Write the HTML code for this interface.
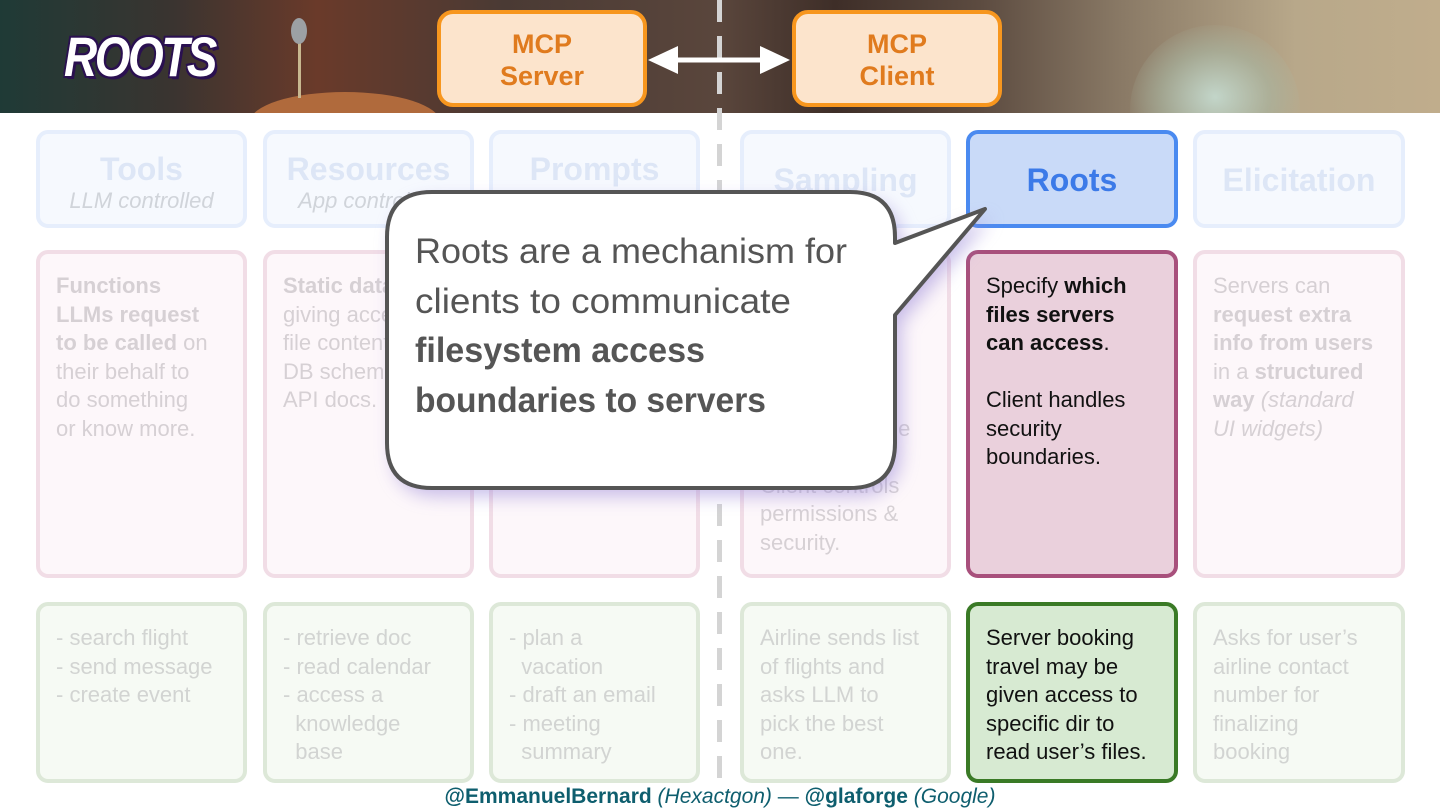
<!DOCTYPE html>
<html><head><meta charset="utf-8"><style>
*{margin:0;padding:0;box-sizing:border-box}
body{width:1440px;height:810px;position:relative;overflow:hidden;background:#fff;font-family:"Liberation Sans","DejaVu Sans",sans-serif}
.banner{position:absolute;left:0;top:0;width:1440px;height:113px;overflow:hidden;background:linear-gradient(90deg,#1f3a36 0%,#3a3430 12%,#6a3a2a 22%,#4a3a34 35%,#5a463c 50%,#3e2e28 58%,#5c4b40 68%,#8a7a66 78%,#b8a88a 90%,#c0ad8c 100%)}
.glow{position:absolute;left:1130px;top:25px;width:170px;height:120px;border-radius:85px 85px 0 0;background:radial-gradient(ellipse at 50% 60%,rgba(200,225,215,.85) 0%,rgba(170,185,165,.6) 45%,rgba(180,170,140,0) 75%)}
.ball{position:absolute;left:250px;top:92px;width:190px;height:60px;border-radius:50%;background:#b06a3c}
.title{position:absolute;left:64px;top:24px;font-size:56px;font-weight:bold;font-style:italic;color:#fff;letter-spacing:-3px;text-shadow:3px 3px 0 #2a1050,-2px -2px 0 #2a1050,2px -2px 0 #2a1050,-2px 2px 0 #2a1050;transform:scaleX(.82);transform-origin:left}
.mcp{position:absolute;top:10px;width:210px;height:97px;border:4px solid #f7961e;border-radius:16px;background:#fce4cc;color:#e07b1e;font-weight:bold;font-size:27px;text-align:center;line-height:32px;padding-top:14px}
.box{position:absolute;border:4px solid;border-radius:12px;white-space:nowrap}
.h{top:130px;height:98px;border-color:#e6eefc;background:#f6f9fe;text-align:center;color:#dde6f6;font-weight:bold;font-size:32px}
.m{top:250px;height:328px;border-color:#f1dde6;background:#fdf7fa;color:#d6d0d4;font-size:22px;line-height:28.5px;padding:18px 0 0 16px}
.b{top:602px;height:181px;border-color:#dde8d8;background:#f6faf4;color:#d2d4d2;font-size:22px;line-height:28.5px;padding:18px 0 0 16px}
.sub{display:block;font-size:22px;font-weight:normal;font-style:italic;color:#d0d4da;margin-top:-6px}
.dash{position:absolute;left:717px;top:0;width:5px;height:780px;background:repeating-linear-gradient(180deg,#d4d4d4 0 22px,transparent 22px 36px)}
.foot{position:absolute;left:0;width:1440px;top:785px;text-align:center;font-size:21px;color:#0e5e6e}
</style></head><body>
<div class="banner"><div class="glow"></div><div class="ball"></div>
<div style="position:absolute;left:298px;top:28px;width:3px;height:70px;background:#c8b890"></div>
<div style="position:absolute;left:291px;top:18px;width:16px;height:26px;border-radius:50%;background:#9ca0a4"></div>
</div>
<div class="dash"></div>
<div class="title">ROOTS</div>
<div class="mcp" style="left:437px">MCP<br>Server</div>
<div class="mcp" style="left:792px">MCP<br>Client</div>
<svg style="position:absolute;left:640px;top:40px" width="160" height="40">
<line x1="30" y1="20" x2="125" y2="20" stroke="#fff" stroke-width="5"/>
<polygon points="8,20 38,6 38,34" fill="#fff"/>
<polygon points="150,20 120,6 120,34" fill="#fff"/>
</svg>

<div class="box h" style="left:36px;width:211px;padding-top:16px;line-height:38px">Tools<span class="sub">LLM controlled</span></div>
<div class="box h" style="left:263px;width:211px;padding-top:16px;line-height:38px">Resources<span class="sub">App controlled</span></div>
<div class="box h" style="left:489px;width:211px;padding-top:16px;line-height:38px">Prompts<span class="sub">User controlled</span></div>
<div class="box h" style="left:740px;width:211px;line-height:92px">Sampling</div>
<div class="box h" style="left:966px;width:212px;line-height:92px;border-color:#4a8af0;background:#c9daf8;color:#3c7ae8">Roots</div>
<div class="box h" style="left:1193px;width:212px;line-height:92px">Elicitation</div>

<div class="box m" style="left:36px;width:211px"><b>Functions</b><br><b>LLMs request</b><br><b>to be called</b> on<br>their behalf to<br>do something<br>or know more.</div>
<div class="box m" style="left:263px;width:211px"><b>Static data</b><br>giving access to<br>file contents,<br>DB schemas,<br>API docs.</div>
<div class="box m" style="left:489px;width:211px">Reusable<br>prompt<br>templates</div>
<div class="box m" style="left:740px;width:211px">Server requests<br>completions<br>from LLM via<br>the client.<br><br>Client owns the<br>model and<br>Client controls<br>permissions &amp;<br>security.</div>
<div class="box m" style="left:966px;width:212px;border-color:#a8507c;background:#ead0dc;color:#111">Specify <b>which</b><br><b>files servers</b><br><b>can access</b>.<br><br>Client handles<br>security<br>boundaries.</div>
<div class="box m" style="left:1193px;width:212px">Servers can<br><b>request extra</b><br><b>info from users</b><br>in a <b>structured</b><br><b>way</b> <i>(standard</i><br><i>UI widgets)</i></div>

<div class="box b" style="left:36px;width:211px">- search flight<br>- send message<br>- create event</div>
<div class="box b" style="left:263px;width:211px">- retrieve doc<br>- read calendar<br>- access a<br>&nbsp;&nbsp;knowledge<br>&nbsp;&nbsp;base</div>
<div class="box b" style="left:489px;width:211px">- plan a<br>&nbsp;&nbsp;vacation<br>- draft an email<br>- meeting<br>&nbsp;&nbsp;summary</div>
<div class="box b" style="left:740px;width:211px">Airline sends list<br>of flights and<br>asks LLM to<br>pick the best<br>one.</div>
<div class="box b" style="left:966px;width:212px;border-color:#3a7a26;background:#d7ead2;color:#111">Server booking<br>travel may be<br>given access to<br>specific dir to<br>read user’s files.</div>
<div class="box b" style="left:1193px;width:212px">Asks for user’s<br>airline contact<br>number for<br>finalizing<br>booking</div>

<svg style="position:absolute;left:0;top:0" width="1440" height="810">
<defs><filter id="sh" x="-20%" y="-20%" width="140%" height="140%"><feGaussianBlur stdDeviation="9"/></filter></defs>
<path d="M432,192 H850 Q895,192 895,237 V243 L985,209 L895,315 V443 Q895,488 850,488 H432 Q387,488 387,443 V237 Q387,192 432,192 Z" fill="#9a88d8" opacity=".55" filter="url(#sh)" transform="translate(6,8)"/>
<path d="M432,192 H850 Q895,192 895,237 V243 L985,209 L895,315 V443 Q895,488 850,488 H432 Q387,488 387,443 V237 Q387,192 432,192 Z" fill="#fff" stroke="#555" stroke-width="4" stroke-linejoin="round"/>
<text font-family="Liberation Sans, sans-serif" font-size="35" fill="#555">
<tspan x="415" y="263" textLength="432" lengthAdjust="spacingAndGlyphs">Roots are a mechanism for</tspan>
<tspan x="415" y="313" textLength="376" lengthAdjust="spacingAndGlyphs">clients to communicate</tspan>
<tspan x="415" y="362" font-weight="bold" textLength="290" lengthAdjust="spacingAndGlyphs">filesystem access</tspan>
<tspan x="415" y="412" font-weight="bold" textLength="351" lengthAdjust="spacingAndGlyphs">boundaries to servers</tspan>
</text>
</svg>

<div class="foot"><b>@EmmanuelBernard</b> <i>(Hexactgon)</i> — <b>@glaforge</b> <i>(Google)</i></div>
</body></html>
